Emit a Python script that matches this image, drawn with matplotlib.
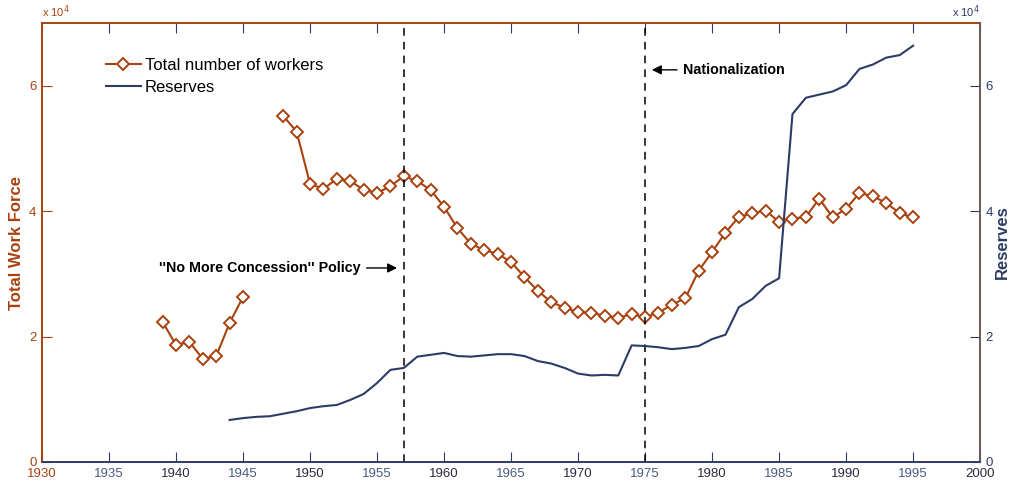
import matplotlib
matplotlib.use("Agg")
import matplotlib.pyplot as plt
from matplotlib.ticker import FuncFormatter, MultipleLocator

plt.rcParams['font.family'] = ['Liberation Sans', 'DejaVu Sans']

# Annual series
worker_years_a = [1939, 1940, 1941, 1942, 1943, 1944, 1945]
workers_a = [22340, 18670, 19150, 16440, 16900, 22180, 26330]

worker_years_b = list(range(1948, 1996))
workers_b = [55200, 52700, 44360, 43560, 45160, 44840, 43400, 42900, 44000, 45600,
             44800, 43400, 40700, 37300, 34800, 33800, 33200, 31900, 29500, 27300,
             25500, 24600, 23900, 23800, 23300, 23000, 23600, 23100, 23800, 25100,
             26100, 30500, 33500, 36600, 39100, 39700, 40100, 38300, 38800, 39100,
             42000, 39000, 40400, 42900, 42400, 41300, 39700, 39000]

reserve_years = list(range(1944, 1996))
reserves = [6700, 7000, 7200, 7300, 7700, 8100, 8600, 8900, 9100, 9900,
            10850, 12600, 14700, 15000, 16800, 17100, 17400, 16900, 16800, 17000,
            17200, 17200, 16900, 16100, 15700, 15000, 14100, 13800, 13900, 13800,
            18600, 18500, 18300, 18000, 18200, 18500, 19600, 20300, 24700, 26000,
            28100, 29300, 55500, 58100, 58600, 59100, 60100, 62700, 63400, 64500,
            64900, 66400]

events = [1957, 1975]
xtick_years = list(range(1930, 2001, 5))

ORANGE = '#a8420f'
NAVY = '#2c3c66'
DARK = '#2a2a3a'
RIGHT_SPINE = '#6e5555'

fig = plt.figure(figsize=(10.1, 4.82), dpi=100)
ax = fig.add_axes([0.0416, 0.0415, 0.9288, 0.9105])
ax2 = ax.twinx()

# Workforce
ax.plot(worker_years_a, workers_a, color=ORANGE, lw=1.5, marker='D', ms=6,
        mfc='white', mec=ORANGE, mew=1.4, label='Total number of workers')
ax.plot(worker_years_b, workers_b, color=ORANGE, lw=1.5, marker='D', ms=6,
        mfc='white', mec=ORANGE, mew=1.4)

# Reserves
ax2.plot(reserve_years, reserves, color=NAVY, lw=1.5, label='Reserves')

for yr in events:
    ax.axvline(yr, color='black', ls=(0, (5, 4)), lw=1.1)

ax.set_xlim(1930, 2000)
ax.set_ylim(0, 70000)
ax2.set_ylim(0, 70000)

fmt = FuncFormatter(lambda v, p: f'{v / 1e4:g}')
for a in (ax, ax2):
    a.yaxis.set_major_locator(MultipleLocator(20000))
    a.yaxis.set_major_formatter(fmt)

ax.set_xticks(xtick_years)
ax.set_xticklabels([str(y) for y in xtick_years], fontsize=9.5)
for y, lbl in zip(xtick_years, ax.get_xticklabels()):
    if y == 1930:
        lbl.set_color(ORANGE)
    elif y % 10 == 5:
        lbl.set_color('#4a5a80')
    else:
        lbl.set_color(DARK)

ax.tick_params(axis='x', direction='in', length=7, color=NAVY, top=True,
               pad=4.5)
ax.tick_params(axis='y', direction='in', length=7, color=ORANGE,
               labelcolor=ORANGE, labelsize=9.5, pad=4)
ax2.tick_params(axis='y', direction='in', length=7, color=NAVY,
                labelcolor=NAVY, labelsize=9.5, pad=4)
ax2.tick_params(axis='x', top=False, bottom=False)

# Top ticks in orange
for t in ax.xaxis.get_major_ticks():
    t.tick2line.set_color(ORANGE)

for a in (ax, ax2):
    a.spines['left'].set_color(ORANGE)
    a.spines['top'].set_color(ORANGE)
    a.spines['bottom'].set_color(NAVY)
    a.spines['right'].set_color(RIGHT_SPINE)
    for s in a.spines.values():
        s.set_linewidth(1.2)

ax.set_ylabel('Total Work Force', color=ORANGE, fontsize=12, fontweight='bold',
              labelpad=4)
ax2.set_ylabel('Reserves', color=NAVY, fontsize=12, fontweight='bold',
               labelpad=1.5)

ax.text(0.0, 1.007, r'x 10$^4$', transform=ax.transAxes, color=ORANGE,
        fontsize=8, ha='left', va='bottom')
ax2.text(1.0, 1.007, r'x 10$^4$', transform=ax2.transAxes, color=NAVY,
         fontsize=8, ha='right', va='bottom')

# Event annotations
ax.annotate("''No More Concession'' Policy", xy=(1956.7, 30950),
            xytext=(1953.8, 30950), ha='right', va='center', fontsize=10.3,
            fontweight='bold', color='black',
            arrowprops=dict(arrowstyle='-|>', color='black', lw=1.0,
                            mutation_scale=14))
ax.annotate('Nationalization', xy=(1975.3, 62550), xytext=(1977.8, 62550),
            ha='left', va='center', fontsize=10.3, fontweight='bold',
            color='black',
            arrowprops=dict(arrowstyle='-|>', color='black', lw=1.0,
                            mutation_scale=14))

h1, l1 = ax.get_legend_handles_labels()
h2, l2 = ax2.get_legend_handles_labels()
ax.legend(h1 + h2, l1 + l2, loc='upper left', bbox_to_anchor=(0.068, 0.921),
          frameon=False, fontsize=12, handlelength=2.1, handletextpad=0.25,
          labelspacing=0.42, borderaxespad=0, borderpad=0)

fig.savefig('out.png', dpi=100)
